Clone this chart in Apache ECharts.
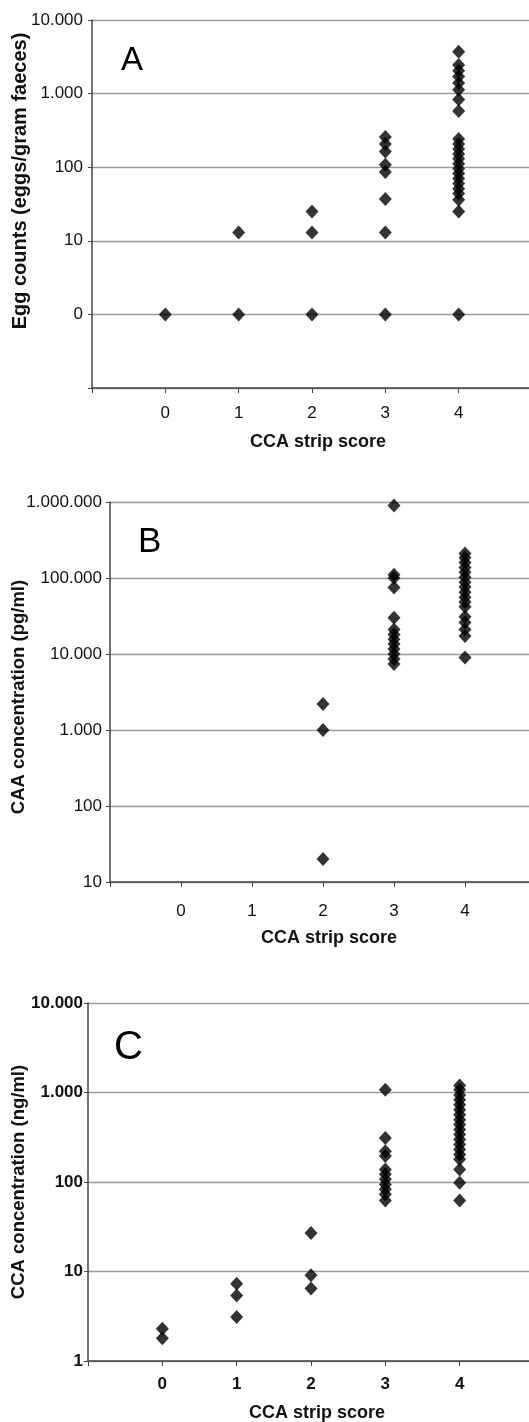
<!DOCTYPE html>
<html>
<head>
<meta charset="utf-8">
<script src="https://cdn.jsdelivr.net/npm/echarts@6/dist/echarts.min.js"></script>
<style>
  html, body { margin: 0; padding: 0; background: #fff; }
  #chart { width: 529px; height: 1422px; }
</style>
</head>
<body>
<div id="chart"></div>
<script>
// CCA strip score categories
const scores = [0, 1, 2, 3, 4];
const xTickLabels = ['0', '1', '2', '3', '4'];

// Panel A: egg counts (eggs/gram faeces), one list per strip score
const eggCounts = [
  [0],
  [0, 13],
  [0, 13, 25],
  [0, 13, 37, 86, 108, 164, 206, 257],
  [0, 25, 36, 44, 51, 60, 70, 82, 95, 111, 130, 151, 177, 207, 241, 580, 830, 1130, 1390, 1710, 2040, 2450, 3700]
];
// Panel B: CAA concentration (pg/ml)
const caaConc = [
  [],
  [],
  [20, 1000, 2200],
  [7400, 8600, 10000, 11600, 13500, 15600, 18000, 21000, 30000, 75000, 100000, 110000, 900000],
  [9000, 17200, 21000, 26000, 31000, 42000, 48500, 56000, 65000, 76000, 88000, 102000, 119000, 137000, 160000, 185000, 210000]
];
// Panel C: CCA concentration (ng/ml)
const ccaConc = [
  [1.8, 2.3],
  [3.1, 5.4, 7.3],
  [6.45, 9.1, 27],
  [62, 73, 83, 94, 107, 122, 138, 195, 221, 311, 1070],
  [62, 98, 138, 179, 203, 231, 262, 298, 339, 385, 438, 497, 565, 642, 730, 830, 940, 1070, 1200]
];

const FONT = 'Liberation Sans, Arial, sans-serif';
// zero egg counts are drawn on the log axis at the position labelled "0"
const ZERO_POSITION = 1;

function pairs(lists, mapZero) {
  const out = [];
  lists.forEach((vals, i) => {
    vals.forEach(v => out.push([scores[i], (mapZero && v === 0) ? ZERO_POSITION : v]));
  });
  return out;
}
function fmtThousands(v) {
  return Math.round(v).toString().replace(/\B(?=(\d{3})+(?!\d))/g, '.');
}

const grids = [
  { left: 92, top: 20, width: 440, height: 368 },
  { left: 110, top: 502, width: 426, height: 380 },
  { left: 88, top: 1003, width: 446, height: 358 }
];
grids.forEach(g => { g.outerBoundsMode = 'none'; g.containLabel = false; });

function xAxis(idx, labelMargin, nameGap, bold) {
  return {
    type: 'value', gridIndex: idx, min: -1, max: 5, interval: 1,
    name: 'CCA strip score', nameLocation: 'middle', nameGap: nameGap, nameMoveOverlap: false,
    nameTextStyle: { fontFamily: FONT, fontSize: 18, fontWeight: 'bold', color: '#111', padding: [0, 0, 0, 12] },
    axisLine: { show: true, onZero: false, lineStyle: { color: '#444', width: 1.5 } },
    axisTick: { show: true, length: 5, lineStyle: { color: '#444' } },
    axisLabel: {
      margin: labelMargin, fontFamily: FONT, fontSize: 17, color: '#111',
      fontWeight: bold ? 'bold' : 'normal',
      formatter: v => (v >= 0 && v <= 4) ? xTickLabels[v] : ''
    },
    splitLine: { show: false }
  };
}
function yAxis(idx, min, max, name, nameGap, namePad, bold, fontSize, labelFn, labelMargin) {
  return {
    type: 'log', logBase: 10, gridIndex: idx, min: min, max: max,
    name: name, nameLocation: 'middle', nameGap: nameGap, nameMoveOverlap: false,
    nameTextStyle: { fontFamily: FONT, fontSize: fontSize, fontWeight: 'bold', color: '#111', padding: namePad },
    axisLine: { show: true, onZero: false, lineStyle: { color: '#444', width: 1.5 } },
    axisTick: { show: true, length: 4, lineStyle: { color: '#444' } },
    axisLabel: {
      margin: labelMargin, fontFamily: FONT, fontSize: 17, color: '#111',
      fontWeight: bold ? 'bold' : 'normal', formatter: labelFn
    },
    splitLine: { show: true, lineStyle: { color: '#9a9a9a', width: 1.3 } },
    minorTick: { show: false }
  };
}

function scatter(idx, data) {
  return {
    type: 'scatter', xAxisIndex: idx, yAxisIndex: idx, data: data,
    symbol: 'diamond', symbolSize: [13, 14],
    itemStyle: { color: '#000' }, silent: true, animation: false
  };
}

const option = {
  animation: false,
  backgroundColor: '#fff',
  grid: grids,
  xAxis: [xAxis(0, 17, 45, false), xAxis(1, 21, 47, false), xAxis(2, 15, 43, true)],
  yAxis: [
    yAxis(0, 0.1, 10000, 'Egg counts (eggs/gram faeces)', 62, [0, 0, 0, 46], false, 20,
      v => v < 0.5 ? '' : (v < 2 ? '0' : fmtThousands(v)), 9),
    yAxis(1, 10, 1000000, 'CAA concentration (pg/ml)', 82, [0, 10, 0, 0], false, 18.5,
      v => fmtThousands(v), 8),
    yAxis(2, 1, 10000, 'CCA concentration (ng/ml)', 60, [0, 0, 0, 0], true, 18.5,
      v => fmtThousands(v), 5)
  ],
  series: [
    scatter(0, pairs(eggCounts, true)),
    scatter(1, pairs(caaConc, false)),
    scatter(2, pairs(ccaConc, false))
  ],
  graphic: [
    { type: 'text', x: 121, y: 61, style: { text: 'A', fontFamily: FONT, fontSize: 33, fill: '#000', verticalAlign: 'middle', align: 'left' } },
    { type: 'text', x: 138, y: 542, style: { text: 'B', fontFamily: FONT, fontSize: 35, fill: '#000', verticalAlign: 'middle', align: 'left' } },
    { type: 'text', x: 114, y: 1048, style: { text: 'C', fontFamily: FONT, fontSize: 40, fill: '#000', verticalAlign: 'middle', align: 'left' } }
  ]
};

const chart = echarts.init(document.getElementById('chart'), null, { renderer: 'canvas' });
chart.setOption(option);
</script>
</body>
</html>
